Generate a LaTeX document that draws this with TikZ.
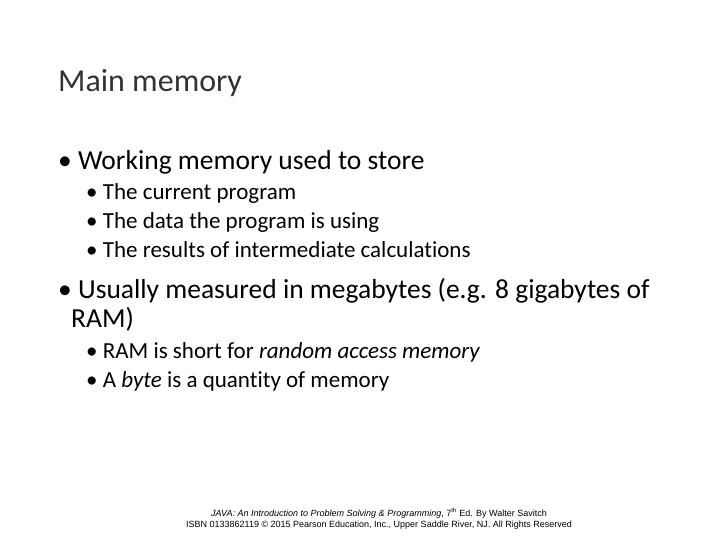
\documentclass[tikz,border=0pt]{standalone}
\usepackage{fontspec}
\setmainfont{Carlito}[Ligatures=NoCommon]
\newfontfamily\foot{Liberation Sans}
\begin{document}
\begin{tikzpicture}[x=1pt,y=-1pt,
 t/.style={anchor=base west,inner sep=0pt,font=\fontsize{32}{36}\selectfont,text=black!80},
 b/.style={anchor=base west,inner sep=0pt,font=\fontsize{27.5}{32}\selectfont},
 s/.style={anchor=base west,inner sep=0pt,font=\fontsize{23}{27}\selectfont},
 f/.style={anchor=base,inner sep=0pt,font=\foot\fontsize{9}{10}\selectfont}]
\useasboundingbox (0,0) rectangle (720,540);
\node[t] (title) at (58,92) {Main memory};
\node[b] (b1) at (58,170) {\textbullet\ Working memory used to store};
\node[s] (s1) at (86,200) {\textbullet\ The current program};
\node[s] (s2) at (86,229) {\textbullet\ The data the program is using};
\node[s] (s3) at (86,258) {\textbullet\ The results of intermediate calculations};
\node[b] (b2) at (58,298) {\textbullet\ Usually measured in megabytes (e.g. 8 gigabytes of};
\node[b] (b3) at (71,327) {RAM)};
\node[s] (s4) at (86,358) {\textbullet\ RAM is short for \textit{random access memory}};
\node[s] (s5) at (86,387) {\textbullet\ A \textit{byte} is a quantity of memory};
\node[f] (f1) at (379,516) {\textit{JAVA: An Introduction to Problem Solving \& Programming}, 7\textsuperscript{th} Ed. By Walter Savitch};
\node[f] (f2) at (379,527) {ISBN 0133862119 \copyright\ 2015 Pearson Education, Inc., Upper Saddle River, NJ. All Rights Reserved};
\end{tikzpicture}
\end{document}
